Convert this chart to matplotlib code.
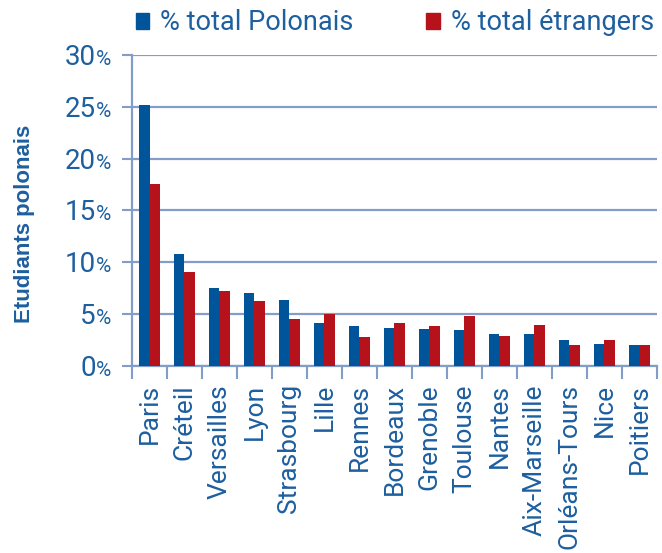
import numpy as np
import matplotlib.pyplot as plt
from matplotlib.patches import Patch
from matplotlib.ticker import FixedLocator
import matplotlib.transforms as mtransforms

villes = ['Paris', 'Créteil', 'Versailles', 'Lyon', 'Strasbourg', 'Lille', 'Rennes',
          'Bordeaux', 'Grenoble', 'Toulouse', 'Nantes', 'Aix-Marseille',
          'Orléans-Tours', 'Nice', 'Poitiers']
polonais = [25.2, 10.8, 7.5, 7.0, 6.35, 4.1, 3.85, 3.65, 3.55, 3.45, 3.1, 3.1, 2.5, 2.1, 2.0]
etrangers = [17.6, 9.05, 7.2, 6.25, 4.5, 5.0, 2.8, 4.1, 3.85, 4.8, 2.9, 4.0, 2.0, 2.5, 2.0]
yticks = [0, 5, 10, 15, 20, 25, 30]

bleu = '#00559a'
rouge = '#b5121b'
grille = '#819dc8'
texte = '#1d5f9f'

plt.rcParams['font.family'] = ['Roboto', 'Liberation Sans', 'DejaVu Sans']

fig = plt.figure(figsize=(6.62, 5.53), dpi=100)
ax = fig.add_axes([0.1994, 0.3382, 0.7930, 0.5623])

x = np.arange(len(villes))
w = 0.31
ax.bar(x - w / 2, polonais, w, color=bleu, zorder=3)
ax.bar(x + w / 2, etrangers, w, color=rouge, zorder=3)

ax.set_xlim(-0.5, len(villes) - 0.5)
ax.set_ylim(0, 30)
ax.set_yticks(yticks)
ax.set_yticklabels([])
ax.yaxis.grid(True, color=grille, linewidth=1.6, zorder=0)

# étiquettes de l'axe y : chiffres + petit signe %, sur la même ligne de base
trans = ax.get_yaxis_transform()
for v in yticks:
    off = mtransforms.offset_copy(trans, fig=fig, x=-36, y=-10, units='dots')
    ax.text(0, v, str(v), transform=off, ha='right', va='baseline',
            fontsize=20, color=texte)
    ax.text(0, v, '%', transform=off, ha='left', va='baseline',
            fontsize=15, color=texte)

ax.set_xticks(x)
ax.set_xticklabels(villes, rotation=90)
ax.xaxis.set_minor_locator(FixedLocator(np.arange(-0.5, len(villes), 1)))
ax.tick_params(axis='x', which='major', length=0, pad=13, labelsize=19, labelcolor=texte)
ax.tick_params(axis='x', which='minor', length=9, width=1.5, color=grille)
ax.tick_params(axis='y', length=7, width=1.5, color=grille)

for s in ['top', 'right']:
    ax.spines[s].set_visible(False)
for s in ['left', 'bottom']:
    ax.spines[s].set_color(grille)
    ax.spines[s].set_linewidth(1.6)

fig.text(25 / 662, 1 - 224 / 553, 'Etudiants polonais', rotation=90,
         ha='center', va='center', fontsize=16, fontweight='bold', color=texte,
         family=['Liberation Sans', 'DejaVu Sans'])

handles = [Patch(color=bleu), Patch(color=rouge)]
fig.legend(handles, ['% total Polonais', '% total étrangers'], ncol=2,
           loc='center left', bbox_to_anchor=(122 / 662, 1 - 23 / 553), frameon=False,
           borderpad=0, fontsize=19.5, labelcolor=texte, handlelength=0.5,
           handleheight=0.5, handletextpad=0.4, columnspacing=2.7)

fig.savefig('out.png', dpi=100)
